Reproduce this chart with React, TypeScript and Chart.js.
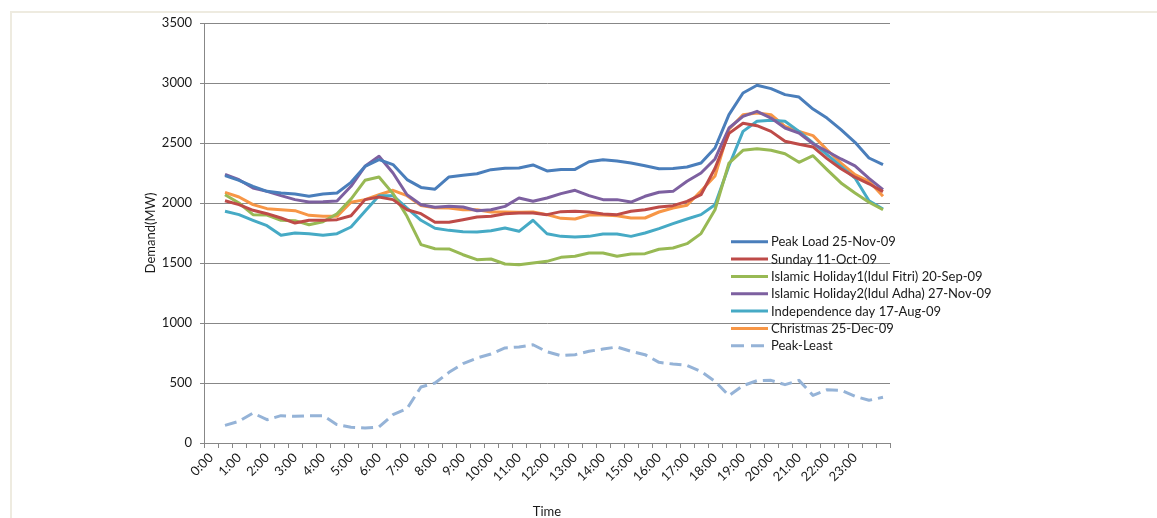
import React, { useEffect, useRef } from "react";
import { Chart, registerables } from "chart.js";

Chart.register(...registerables);

const times = [
  "0:00", "0:30", "1:00", "1:30", "2:00", "2:30", "3:00", "3:30", "4:00", "4:30",
  "5:00", "5:30", "6:00", "6:30", "7:00", "7:30", "8:00", "8:30", "9:00", "9:30",
  "10:00", "10:30", "11:00", "11:30", "12:00", "12:30", "13:00", "13:30", "14:00", "14:30",
  "15:00", "15:30", "16:00", "16:30", "17:00", "17:30", "18:00", "18:30", "19:00", "19:30",
  "20:00", "20:30", "21:00", "21:30", "22:00", "22:30", "23:00", "23:30", "",
];

const peakLoad = [null,
  2228, 2189, 2139, 2097, 2083, 2075, 2056, 2075, 2083, 2172, 2305, 2361, 2320, 2195, 2130, 2115,
  2217, 2231, 2244, 2278, 2289, 2292, 2317, 2267, 2280, 2280, 2344, 2361, 2350, 2333, 2311, 2285,
  2288, 2300, 2333, 2458, 2736, 2917, 2981, 2953, 2903, 2883, 2783, 2708, 2611, 2506, 2375, 2319];

const sunday = [null,
  2019, 1986, 1939, 1911, 1875, 1833, 1856, 1856, 1861, 1894, 2028, 2050, 2028, 1944, 1911, 1839,
  1839, 1861, 1883, 1889, 1911, 1917, 1917, 1903, 1928, 1931, 1925, 1908, 1903, 1931, 1944, 1966,
  1978, 2014, 2069, 2290, 2580, 2665, 2644, 2597, 2514, 2490, 2467, 2370, 2285, 2215, 2160, 2095];

const idulFitri = [null,
  2069, 2000, 1903, 1900, 1856, 1853, 1819, 1844, 1911, 2033, 2189, 2217, 2078, 1889, 1653, 1619,
  1617, 1569, 1528, 1533, 1492, 1486, 1500, 1514, 1547, 1556, 1583, 1583, 1556, 1575, 1578, 1615,
  1625, 1661, 1745, 1944, 2333, 2439, 2453, 2439, 2411, 2339, 2394, 2278, 2167, 2083, 2006, 1944];

const idulAdha = [null,
  2239, 2194, 2125, 2097, 2061, 2028, 2008, 2011, 2017, 2139, 2306, 2389, 2250, 2069, 1986, 1964,
  1972, 1967, 1936, 1944, 1972, 2042, 2014, 2042, 2078, 2106, 2061, 2028, 2028, 2008, 2056, 2090,
  2097, 2181, 2250, 2367, 2625, 2722, 2764, 2708, 2625, 2583, 2494, 2431, 2367, 2310, 2205, 2111];

const independence = [null,
  1931, 1903, 1856, 1811, 1731, 1750, 1744, 1731, 1744, 1800, 1931, 2061, 2061, 1958, 1856, 1790,
  1772, 1761, 1758, 1769, 1792, 1764, 1856, 1744, 1722, 1717, 1722, 1742, 1742, 1722, 1750, 1786,
  1828, 1867, 1903, 1986, 2310, 2597, 2681, 2689, 2681, 2597, 2500, 2403, 2306, 2208, 2019, 1950];

const christmas = [null,
  2089, 2050, 1986, 1953, 1944, 1936, 1897, 1889, 1889, 2006, 2028, 2069, 2106, 2061, 1978, 1960,
  1958, 1944, 1944, 1925, 1925, 1922, 1925, 1903, 1872, 1867, 1900, 1900, 1894, 1875, 1875, 1925,
  1958, 1981, 2100, 2225, 2615, 2736, 2750, 2736, 2639, 2597, 2561, 2444, 2333, 2236, 2181, 2056];

const peakLeast = [null,
  147, 181, 250, 194, 228, 222, 228, 228, 153, 131, 125, 133, 236, 286, 467, 500,
  589, 661, 708, 742, 792, 800, 819, 760, 728, 736, 764, 783, 800, 764, 736, 672,
  658, 647, 597, 514, 394, 478, 519, 522, 486, 522, 397, 444, 439, 389, 356, 381];

const seriesNames = [
  "Peak Load 25-Nov-09",
  "Sunday 11-Oct-09",
  "Islamic Holiday1(Idul Fitri) 20-Sep-09",
  "Islamic Holiday2(Idul Adha) 27-Nov-09",
  "Independence day 17-Aug-09",
  "Christmas 25-Dec-09",
  "Peak-Least",
];
const seriesValues = [peakLoad, sunday, idulFitri, idulAdha, independence, christmas, peakLeast];
const seriesColors = ["#4A7EBB", "#BE4B48", "#98B954", "#7D60A0", "#46AAC5", "#F79646", "#95B3D7"];

const yTicks = [0, 500, 1000, 1500, 2000, 2500, 3000, 3500];

const FONT = "Lato, 'Liberation Sans', sans-serif";
const TEXT = "#1a1a1a";
const GRID = "#878787";

const legendPlugin = {
  id: "customLegend",
  afterDraw(chart: any) {
    const ctx = chart.ctx;
    ctx.save();
    chart.data.datasets.forEach((ds: any, i: number) => {
      const y = 241.7 + i * 17.35;
      ctx.strokeStyle = ds.borderColor;
      ctx.lineWidth = 3;
      ctx.lineCap = "butt";
      ctx.setLineDash(ds.borderDash && ds.borderDash.length ? [13, 7] : []);
      ctx.beginPath();
      ctx.moveTo(731, y);
      ctx.lineTo(768, y);
      ctx.stroke();
      ctx.setLineDash([]);
      ctx.fillStyle = TEXT;
      ctx.font = `13px ${FONT}`;
      ctx.textBaseline = "middle";
      ctx.textAlign = "left";
      ctx.fillText(ds.label, 771, y + 0.5);
    });
    ctx.restore();
  },
};

export default function App() {
  const ref = useRef<HTMLCanvasElement | null>(null);

  useEffect(() => {
    if (!ref.current) return;
    const chart = new Chart(ref.current, {
      type: "line",
      data: {
        labels: times,
        datasets: seriesValues.map((vals, i) => ({
          label: seriesNames[i],
          data: vals,
          borderColor: seriesColors[i],
          backgroundColor: seriesColors[i],
          borderWidth: 3,
          borderDash: i === 6 ? [12, 6] : [],
          borderJoinStyle: "round" as const,
          pointRadius: 0,
          tension: 0,
          spanGaps: false,
          fill: false,
        })),
      },
      options: {
        responsive: false,
        animation: false,
        events: [],
        layout: { padding: { left: 143, right: 267, top: 23, bottom: 0 } },
        plugins: { legend: { display: false }, tooltip: { enabled: false } },
        scales: {
          x: {
            type: "category",
            offset: true,
            grid: { offset: true, drawOnChartArea: false, drawTicks: true, tickLength: 5, color: GRID },
            border: { color: GRID, width: 1 },
            ticks: {
              autoSkip: false,
              maxRotation: 45,
              minRotation: 45,
              padding: 2,
              color: TEXT,
              font: { family: FONT, size: 13 },
              callback: (_v: any, i: number) => (i % 2 === 0 ? times[i] : ""),
            },
            title: { display: true, text: "Time", color: TEXT, font: { family: FONT, size: 13 }, padding: { top: 0, bottom: -1.5 } },
            afterFit: (s: any) => {
              s.height = 75;
            },
          },
          y: {
            min: 0,
            max: 3500,
            afterBuildTicks: (s: any) => {
              s.ticks = yTicks.map((v) => ({ value: v }));
            },
            grid: { color: GRID, tickLength: 4, lineWidth: 1 },
            border: { color: GRID, width: 1 },
            ticks: {
              padding: 8,
              color: TEXT,
              font: { family: FONT, size: 13 },
              callback: (v: any) => String(v),
            },
            title: { display: true, text: "Demand(MW)", color: TEXT, font: { family: FONT, size: 13 }, padding: 0 },
            afterFit: (s: any) => {
              s.width = 61;
            },
          },
        },
      },
      plugins: [legendPlugin],
    });
    return () => chart.destroy();
  }, []);

  return (
    <div style={{ position: "fixed", left: 0, top: 0, width: 1157, height: 518, overflow: "hidden", background: "#fff" }}>
      <div
        style={{
          position: "absolute",
          left: 10,
          top: 11,
          width: 1400,
          height: 800,
          borderLeft: "2px solid #EEEBE0",
          borderTop: "2px solid #EEEBE0",
        }}
      />
      <canvas ref={ref} width={1157} height={518} style={{ position: "absolute", left: 0, top: 0 }} />
    </div>
  );
}
